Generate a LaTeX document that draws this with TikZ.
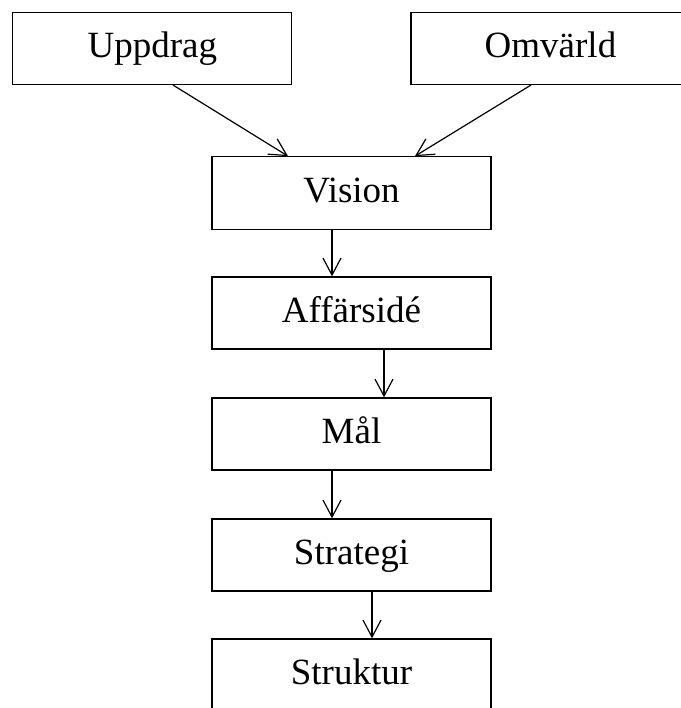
\documentclass[tikz,border=0pt]{standalone}
\usepackage{fontspec}
\setmainfont{Liberation Serif}
\usetikzlibrary{arrows.meta}
\begin{document}
\begin{tikzpicture}[x=1pt,y=-1pt,
  box/.style={draw=black,line width=1.3pt,rectangle,inner sep=0pt,
    minimum width=279pt,minimum height=72pt,
    font=\fontsize{37pt}{40pt}\selectfont,text height=25.9pt,text depth=7.8pt},
  arr/.style={draw=black,line width=1.2pt,-{Straight Barb[length=17pt,width=18pt,line width=1.2pt]}}]
\useasboundingbox (0,0) rectangle (680,708);
\node[box] (upp) at (152.3,48.4) {Uppdrag};
\node[box] (omv) at (550.5,48.4) {Omvärld};
\node[box,minimum height=73pt] (vis) at (351.5,193.3) {Vision};
\node[box] (aff) at (351.5,313) {Affärsidé};
\node[box] (mal) at (351.5,434) {Mål};
\node[box] (str) at (351.5,555) {Strategi};
\node[box] (stk) at (351.5,675) {Struktur};
\draw[arr] ([xshift=20.7pt]upp.south) -- ([xshift=-63.5pt]vis.north);
\draw[arr] ([xshift=-19.5pt]omv.south) -- ([xshift=63.5pt]vis.north);
\draw[arr] ([xshift=-19.5pt]vis.south) -- ([xshift=-19.5pt]aff.north);
\draw[arr] ([xshift=32.5pt]aff.south) -- ([xshift=32.5pt]mal.north);
\draw[arr] ([xshift=-19.5pt]mal.south) -- ([xshift=-19.5pt]str.north);
\draw[arr] ([xshift=20.5pt]str.south) -- ([xshift=20.5pt]stk.north);
\end{tikzpicture}
\end{document}
